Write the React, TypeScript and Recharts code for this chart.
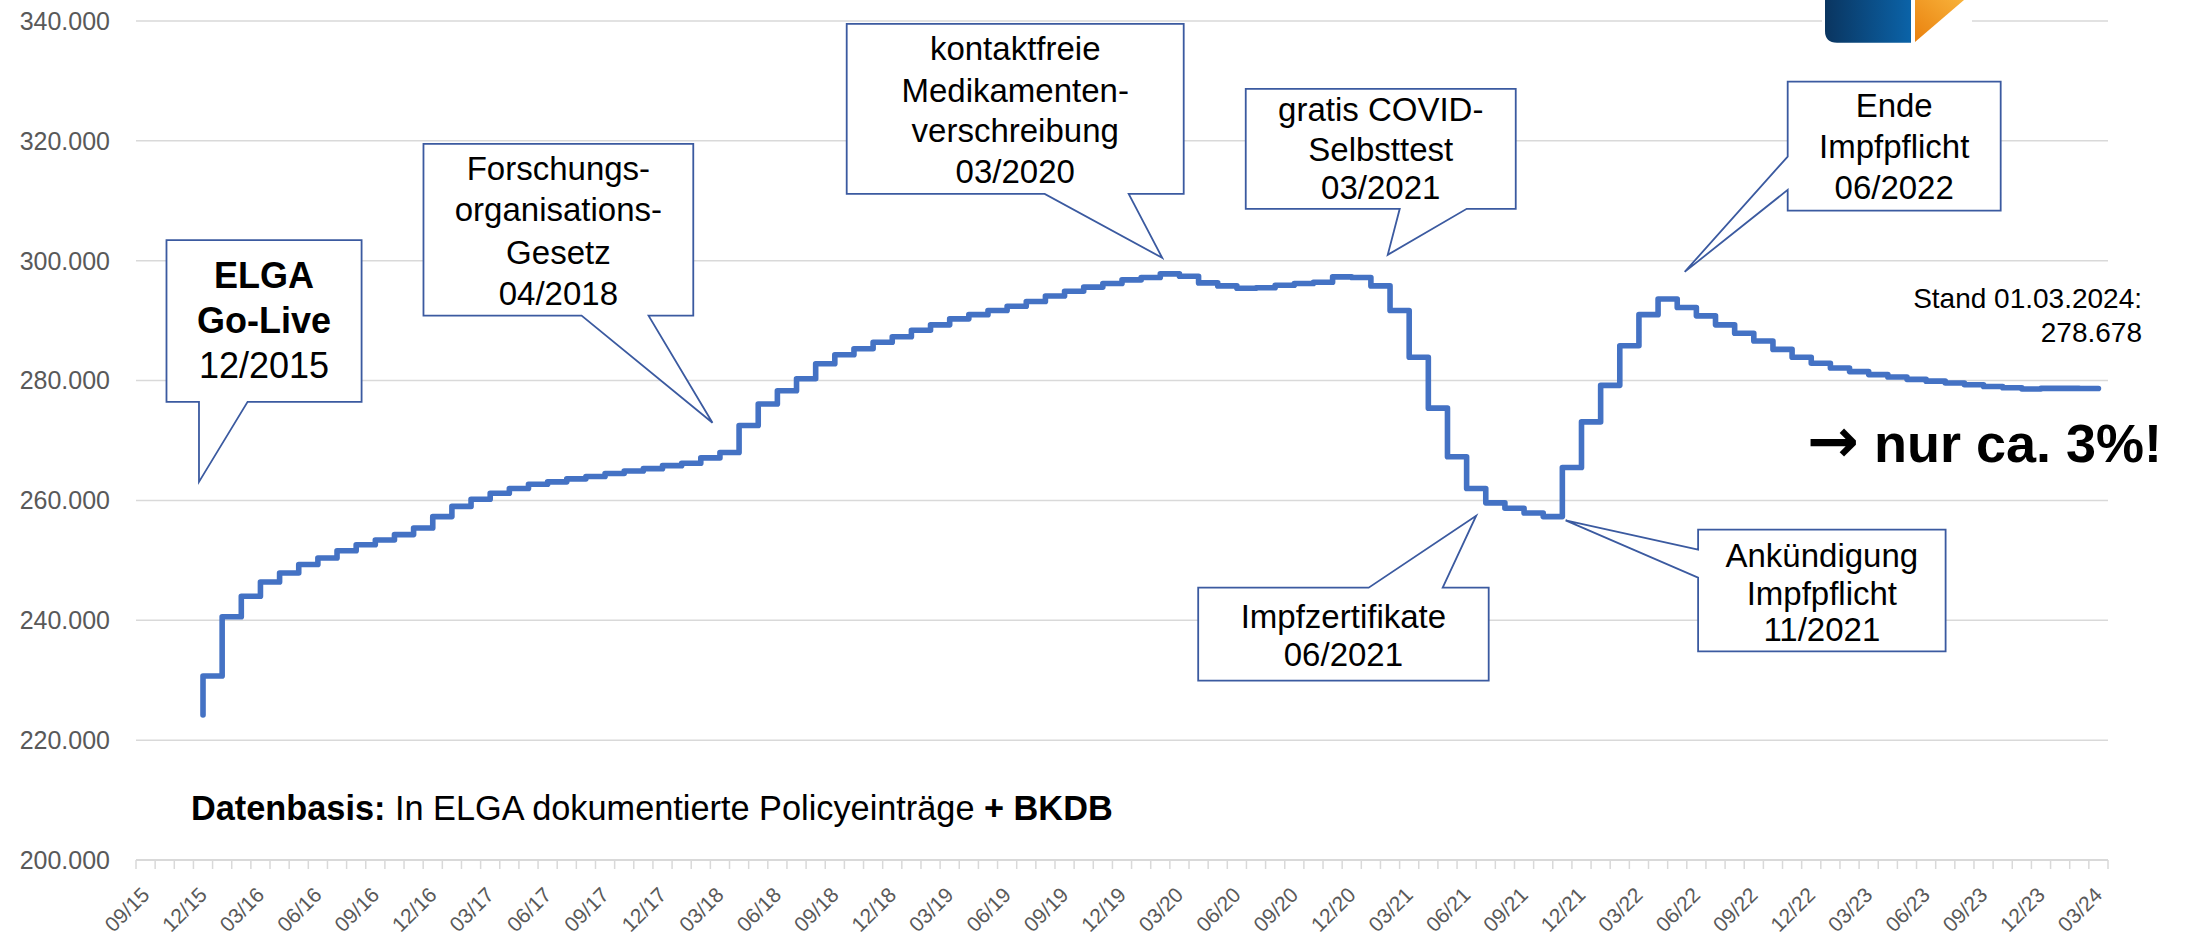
import React from 'react';
import { LineChart, Line, XAxis, YAxis, CartesianGrid, ReferenceDot } from 'recharts';

const W = 2191;
const H = 936;
const FONT = '"Liberation Sans", Arial, Helvetica, sans-serif';

// Category axis: 09/15 ... 03/24 (one category per month)
const axisMonths: string[] = [
  '09/15', '10/15', '11/15', '12/15',
  '01/16', '02/16', '03/16', '04/16', '05/16', '06/16', '07/16', '08/16', '09/16', '10/16', '11/16', '12/16',
  '01/17', '02/17', '03/17', '04/17', '05/17', '06/17', '07/17', '08/17', '09/17', '10/17', '11/17', '12/17',
  '01/18', '02/18', '03/18', '04/18', '05/18', '06/18', '07/18', '08/18', '09/18', '10/18', '11/18', '12/18',
  '01/19', '02/19', '03/19', '04/19', '05/19', '06/19', '07/19', '08/19', '09/19', '10/19', '11/19', '12/19',
  '01/20', '02/20', '03/20', '04/20', '05/20', '06/20', '07/20', '08/20', '09/20', '10/20', '11/20', '12/20',
  '01/21', '02/21', '03/21', '04/21', '05/21', '06/21', '07/21', '08/21', '09/21', '10/21', '11/21', '12/21',
  '01/22', '02/22', '03/22', '04/22', '05/22', '06/22', '07/22', '08/22', '09/22', '10/22', '11/22', '12/22',
  '01/23', '02/23', '03/23', '04/23', '05/23', '06/23', '07/23', '08/23', '09/23', '10/23', '11/23', '12/23',
  '01/24', '02/24', '03/24',
];

// Labelled categories (every third month)
const tickLabels: string[] = axisMonths.filter((_, i) => i % 3 === 0);

// Series: months with data and values (policy entries)
const dataMonths: string[] = axisMonths.slice(3);
const policyEntries: number[] = [
  224200,
  230700, 240600, 244000, 246400, 247900, 249300, 250400, 251600, 252600, 253400, 254300, 255400,
  257300, 259000, 260200, 261200, 262000, 262700, 263100, 263600, 264000, 264500, 264900, 265300,
  265800, 266200, 267100, 268000, 272500, 276100, 278300, 280300, 282800, 284300, 285300, 286400,
  287300, 288400, 289300, 290300, 291000, 291700, 292400, 293200, 294100, 294900, 295600, 296200,
  296800, 297200, 297800, 297400, 296300, 295800, 295400, 295500, 295900, 296200, 296400, 297300,
  297200, 295800, 291700, 283900, 275400, 267300, 262000, 259600, 258700, 257900, 257300, 265500,
  273100, 279200, 285800, 291000, 293600, 292200, 290800, 289300, 287900, 286600, 285200, 283900,
  282900, 282100, 281500, 281000, 280600, 280200, 279900, 279600, 279300, 279000, 278800, 278600,
  278700, 278700, 278678,
];

const yTicks: number[] = [200000, 220000, 240000, 260000, 280000, 300000, 320000, 340000];

const data = dataMonths.map((m, i) => ({
  month: m,
  x: axisMonths.indexOf(m) + 0.5,
  value: policyEntries[i],
}));

const fmtDE = (v: number) => {
  const s = Math.round(v).toString();
  return s.replace(/\B(?=(\d{3})+(?!\d))/g, '.');
};

// x ticks: band boundaries (tick marks) + band centres of labelled months
const boundaryTicks = axisMonths.map((_, i) => i).concat([axisMonths.length]);
const labelTicks = tickLabels.map((l) => axisMonths.indexOf(l) + 0.5);
const xTicks = [...boundaryTicks, ...labelTicks];

type Callout = {
  x: number;
  y: number;
  box: [number, number, number, number];
  side: 'bottom' | 'top' | 'left';
  base: [number, number];
  lines: { t: string; b?: boolean }[];
  baselines: number[];
  tx: number;
  fs: number;
};

const callouts: Callout[] = [
  {
    x: 3.29, y: 263100, box: [-32.5, -241.7, 162.6, -80], side: 'bottom', base: [0, 48.6],
    lines: [{ t: 'ELGA', b: true }, { t: 'Go-Live', b: true }, { t: '12/2015' }],
    baselines: [-194, -149, -104], tx: 65, fs: 36,
  },
  {
    x: 30.11, y: 272950, box: [-289, -279, -19.2, -107.2], side: 'bottom', base: [-130.9, -63.9],
    lines: [{ t: 'Forschungs-' }, { t: 'organisations-' }, { t: 'Gesetz' }, { t: '04/2018' }],
    baselines: [-243, -201.4, -159, -118], tx: -154.1, fs: 33,
  },
  {
    x: 53.6, y: 300480, box: [-315.5, -234, 21.5, -64], side: 'bottom', base: [-117.5, -33.5],
    lines: [{ t: 'kontaktfreie' }, { t: 'Medikamenten-' }, { t: 'verschreibung' }, { t: '03/2020' }],
    baselines: [-198, -156, -116, -75], tx: -147, fs: 33,
  },
  {
    x: 65.38, y: 300980, box: [-142, -166, 128, -46], side: 'bottom', base: [12, 79],
    lines: [{ t: 'gratis COVID-' }, { t: 'Selbsttest' }, { t: '03/2021' }],
    baselines: [-134.3, -94.3, -56], tx: -7, fs: 33,
  },
  {
    x: 70.0, y: 257450, box: [-278, 72, 12.5, 165], side: 'top', base: [-107.5, -33.5],
    lines: [{ t: 'Impfzertifikate' }, { t: '06/2021' }],
    baselines: [112, 150.7], tx: -132.8, fs: 33,
  },
  {
    x: 74.67, y: 256670, box: [132.5, 9.3, 380, 131], side: 'left', base: [29.3, 57.3],
    lines: [{ t: 'Ankündigung' }, { t: 'Impfpflicht' }, { t: '11/2021' }],
    baselines: [46.6, 84.3, 121], tx: 256.25, fs: 33,
  },
  {
    x: 80.89, y: 298140, box: [103, -190.3, 316, -61.3], side: 'left', base: [-115.3, -82],
    lines: [{ t: 'Ende' }, { t: 'Impfpflicht' }, { t: '06/2022' }],
    baselines: [-154.7, -113.7, -73], tx: 209.5, fs: 33,
  },
];

function XTick(props: any) {
  const { x, y, payload } = props;
  const v = payload.value as number;
  if (Number.isInteger(v)) {
    return <line x1={x} x2={x} y1={y} y2={y + 9} stroke="#d9d9d9" strokeWidth={1.5} />;
  }
  const label = axisMonths[Math.floor(v)];
  const ay = y + 31;
  return (
    <text
      x={x}
      y={ay}
      dy="0.35em"
      textAnchor="end"
      transform={`rotate(-45 ${x} ${ay})`}
      fill="#595959"
      fontSize={21}
      fontFamily={FONT}
    >
      {label}
    </text>
  );
}

function CalloutShape(props: any) {
  const { cx, cy, c } = props;
  if (cx == null || cy == null) return <g />;
  const [x0, y0, x1, y1] = c.box;
  const [b0, b1] = c.base;
  let d = '';
  if (c.side === 'bottom') d = `M${x0},${y0} H${x1} V${y1} H${b1} L0,0 L${b0},${y1} H${x0} Z`;
  else if (c.side === 'top') d = `M${x0},${y0} H${b0} L0,0 L${b1},${y0} H${x1} V${y1} H${x0} Z`;
  else d = `M${x0},${y0} H${x1} V${y1} H${x0} V${b1} L0,0 L${x0},${b0} Z`;
  return (
    <g transform={`translate(${cx},${cy})`}>
      <path d={d} fill="#ffffff" stroke="#3B5AA0" strokeWidth={1.8} />
      {c.lines.map((ln: any, i: number) => (
        <text
          key={i}
          x={c.tx}
          y={c.baselines[i]}
          textAnchor="middle"
          fontSize={c.fs}
          fontWeight={ln.b ? 700 : 400}
          fill="#000"
          fontFamily={FONT}
        >
          {ln.t}
        </text>
      ))}
    </g>
  );
}

export default function App() {
  const last = policyEntries[policyEntries.length - 1];
  return (
    <div style={{ position: 'absolute', left: 0, top: 0, width: W, height: H, overflow: 'hidden', background: '#fff' }}>
      <LineChart width={W} height={H} data={data} margin={{ top: 21, right: 83, bottom: 0, left: 0 }}>
        <CartesianGrid vertical={false} stroke="#d9d9d9" strokeWidth={1.5} />
        <XAxis
          type="number"
          dataKey="x"
          domain={[0, axisMonths.length]}
          ticks={xTicks}
          interval={0}
          tickSize={0}
          tickMargin={0}
          tickLine={false}
          axisLine={{ stroke: '#d9d9d9', strokeWidth: 2 }}
          tick={<XTick />}
          height={76}
          allowDataOverflow
        />
        <YAxis
          type="number"
          domain={[200000, 340000]}
          ticks={yTicks}
          interval={0}
          width={136}
          tickSize={0}
          tickMargin={26}
          axisLine={false}
          tickLine={false}
          tickFormatter={(v: number) => fmtDE(v)}
          tick={{ fill: '#595959', fontSize: 25, fontFamily: FONT }}
        />
        <Line
          type="stepBefore"
          dataKey="value"
          stroke="#4472C4"
          strokeWidth={5.6}
          dot={false}
          activeDot={false}
          strokeLinejoin="round"
          strokeLinecap="round"
          isAnimationActive={false}
        />
        {callouts.map((c, i) => (
          <ReferenceDot
            key={i}
            x={c.x}
            y={c.y}
            r={0}
            ifOverflow="visible"
            shape={(p: any) => <CalloutShape {...p} c={c} />}
          />
        ))}
      </LineChart>
      <svg
        width={W}
        height={H}
        style={{ position: 'absolute', left: 0, top: 0, pointerEvents: 'none' }}
      >
        <defs>
          <linearGradient id="logoBlue" x1="0" y1="0" x2="1" y2="0">
            <stop offset="0" stopColor="#0A3560" />
            <stop offset="1" stopColor="#0B63A8" />
          </linearGradient>
          <linearGradient id="logoOrange" x1="0" y1="1" x2="1" y2="0">
            <stop offset="0" stopColor="#E9800E" />
            <stop offset="1" stopColor="#F8B23A" />
          </linearGradient>
        </defs>
        <rect x={1822} y={0} width={150} height={46} fill="#ffffff" />
        <path d="M1825,0 H1911 V42.7 H1837 Q1825,42.7 1825,30.7 Z" fill="url(#logoBlue)" />
        <path d="M1915,0 H1964 L1915,42 Z" fill="url(#logoOrange)" />
        <text x={191} y={820} fontSize={34.3} fontFamily={FONT} fill="#000">
          <tspan fontWeight={700}>Datenbasis:</tspan>
          <tspan> In ELGA dokumentierte Policyeinträge </tspan>
          <tspan fontWeight={700}>+ BKDB</tspan>
        </text>
        <text x={2142} y={308} textAnchor="end" fontSize={28} fontFamily={FONT} fill="#000">
          Stand 01.03.2024:
        </text>
        <text x={2142} y={342} textAnchor="end" fontSize={28} fontFamily={FONT} fill="#000">
          {fmtDE(last)}
        </text>
        <text x={2162} y={462} textAnchor="end" fontSize={54} fontWeight={700} fontFamily={FONT} fill="#000">
          <tspan fontFamily='"DejaVu Sans", sans-serif' fontSize={62}>→</tspan>
          <tspan> nur ca. 3%!</tspan>
        </text>
      </svg>
    </div>
  );
}
